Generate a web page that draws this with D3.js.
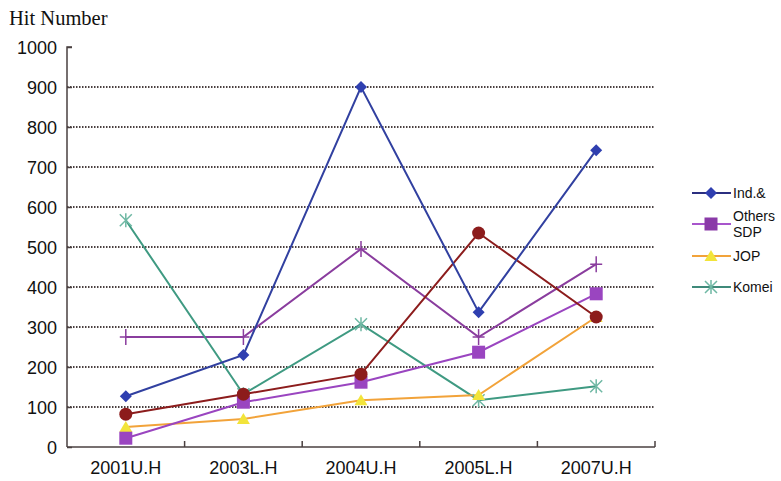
<!DOCTYPE html>
<html><head><meta charset="utf-8">
<script src="https://cdn.jsdelivr.net/npm/d3@7"></script>
<style>body{margin:0;background:#fff}svg{display:block}</style>
</head><body>
<svg id="c" width="781" height="481"></svg>
<script>
const categories = ["2001U.H","2003L.H","2004U.H","2005L.H","2007U.H"];
const yTicks = [0,100,200,300,400,500,600,700,800,900,1000];
const indValues = [127, 230, 900, 337, 742];
const sdpValues = [22, 112, 162, 237, 383];
const jopValues = [50, 70, 117, 130, 325];
const komeiValues = [567, 132, 307, 117, 152];
const plusValues = [275, 275, 495, 275, 457];
const redValues = [82, 132, 182, 535, 325];
const legendLabels = [["Ind.&"],["Others","SDP"],["JOP"],["Komei"]];

const series = [
  {values: plusValues, line:"#8a3d9e", marker:"plus", mcolor:"#8a3d9e"},
  {values: komeiValues, line:"#3f9a82", marker:"star", mcolor:"#6fb8a4"},
  {values: jopValues, line:"#f2a33a", marker:"tri", mcolor:"#f2e43a"},
  {values: sdpValues, line:"#9a45c0", marker:"square", mcolor:"#9a45c0"},
  {values: redValues, line:"#8c1c1c", marker:"circle", mcolor:"#8c1c1c"},
  {values: indValues, line:"#3140a0", marker:"diamond", mcolor:"#2f3fb0"}
];

const svg = d3.select("#c");
const x0 = 67, x1 = 655, yTop = 47, yBot = 447;
const x = d3.scaleBand().domain(categories).range([x0, x1]);
const y = d3.scaleLinear().domain([0,1000]).range([yBot, yTop]);

// grid
svg.append("g").selectAll("line").data(yTicks.filter(d=>d>0 && d<1000)).join("line")
  .attr("x1", x0).attr("x2", x1).attr("y1", d=>y(d)).attr("y2", d=>y(d))
  .attr("stroke","#4a4040").attr("stroke-width",2).attr("stroke-dasharray","1.5,1.5");

// y axis
const ya = svg.append("g").attr("transform",`translate(${x0},0)`)
  .call(d3.axisRight(y).tickValues(yTicks).tickSize(5).tickFormat(""));
ya.selectAll("path,line").attr("stroke","#4a4040").attr("stroke-width",1.5);
ya.select("path").attr("d", `M5,${yTop}H0V${yBot}`);
svg.append("g").selectAll("text").data(yTicks).join("text")
  .attr("x", 57).attr("y", d=>y(d)+6.5).attr("text-anchor","end")
  .attr("font-family","Liberation Sans, Arial, sans-serif").attr("font-size",18).attr("fill","#111")
  .text(d=>d);

// x axis
const xa = svg.append("g").attr("transform",`translate(0,${yBot})`)
  .call(d3.axisTop(x).tickSize(0).tickFormat(""));
xa.select("path").attr("d", `M${x0},0H${x1}`).attr("stroke","#4a4040").attr("stroke-width",1.5);
const bounds = categories.map(c=>x(c)+x.bandwidth());
svg.append("g").selectAll("line").data(bounds).join("line")
  .attr("x1",d=>d).attr("x2",d=>d).attr("y1",yBot-6).attr("y2",yBot)
  .attr("stroke","#4a4040").attr("stroke-width",1.5);
svg.append("g").selectAll("text").data(categories).join("text")
  .attr("x", d=>x(d)+x.bandwidth()/2).attr("y", 474).attr("text-anchor","middle")
  .attr("font-family","Liberation Sans, Arial, sans-serif").attr("font-size",18).attr("fill","#111")
  .text(d=>d);

// title
svg.append("text").attr("x",9).attr("y",25).attr("font-family","Liberation Serif, Times New Roman, serif")
  .attr("font-size",20.5).attr("fill","#111").text("Hit Number");

function drawMarker(g, type, cx, cy, col){
  if(type==="diamond"){
    g.append("path").attr("d",`M${cx},${cy-6}L${cx+6},${cy}L${cx},${cy+6}L${cx-6},${cy}Z`).attr("fill",col);
  } else if(type==="square"){
    g.append("rect").attr("x",cx-6.5).attr("y",cy-6.5).attr("width",13).attr("height",13).attr("fill",col);
  } else if(type==="circle"){
    g.append("circle").attr("cx",cx).attr("cy",cy).attr("r",6.5).attr("fill",col);
  } else if(type==="tri"){
    g.append("path").attr("d",`M${cx},${cy-6}L${cx+6.5},${cy+5}L${cx-6.5},${cy+5}Z`).attr("fill",col);
  } else if(type==="plus"){
    g.append("path").attr("d",`M${cx-6},${cy}H${cx+6}M${cx},${cy-8}V${cy+8}`).attr("stroke",col).attr("stroke-width",1.5);
  } else if(type==="star"){
    g.append("path").attr("d",`M${cx-6},${cy-6}L${cx+6},${cy+6}M${cx+6},${cy-6}L${cx-6},${cy+6}M${cx},${cy-7}V${cy+7}`).attr("stroke",col).attr("stroke-width",1.5);
  }
}

const line = d3.line().x((d,i)=>x(categories[i])+x.bandwidth()/2).y(d=>y(d));
series.forEach(s=>{
  svg.append("path").datum(s.values).attr("d",line).attr("fill","none")
    .attr("stroke",s.line).attr("stroke-width",2);
});
series.forEach(s=>{
  const g = svg.append("g");
  s.values.forEach((v,i)=>drawMarker(g, s.marker, x(categories[i])+x.bandwidth()/2, y(v), s.mcolor));
});

// legend
const leg = [
  {lab: legendLabels[0], line:"#2b2f80", marker:"diamond", mcolor:"#2f3fb0", yc:193},
  {lab: legendLabels[1], line:"#a855cc", marker:"square", mcolor:"#8a3aa8", yc:224},
  {lab: legendLabels[2], line:"#f2a33a", marker:"tri", mcolor:"#f2e43a", yc:256},
  {lab: legendLabels[3], line:"#3f8a7a", marker:"star", mcolor:"#6fb8a4", yc:287}
];
leg.forEach(l=>{
  const g = svg.append("g");
  g.append("line").attr("x1",692).attr("x2",731).attr("y1",l.yc).attr("y2",l.yc).attr("stroke",l.line).attr("stroke-width",2);
  drawMarker(g, l.marker, 711, l.yc, l.mcolor);
  const n = l.lab.length;
  l.lab.forEach((t,i)=>{
    g.append("text").attr("x",733).attr("y", l.yc + 5 + (i-(n-1)/2)*16)
      .attr("font-family","Liberation Sans, Arial, sans-serif").attr("font-size",14).attr("fill","#111").text(t);
  });
});
</script>
</body></html>
